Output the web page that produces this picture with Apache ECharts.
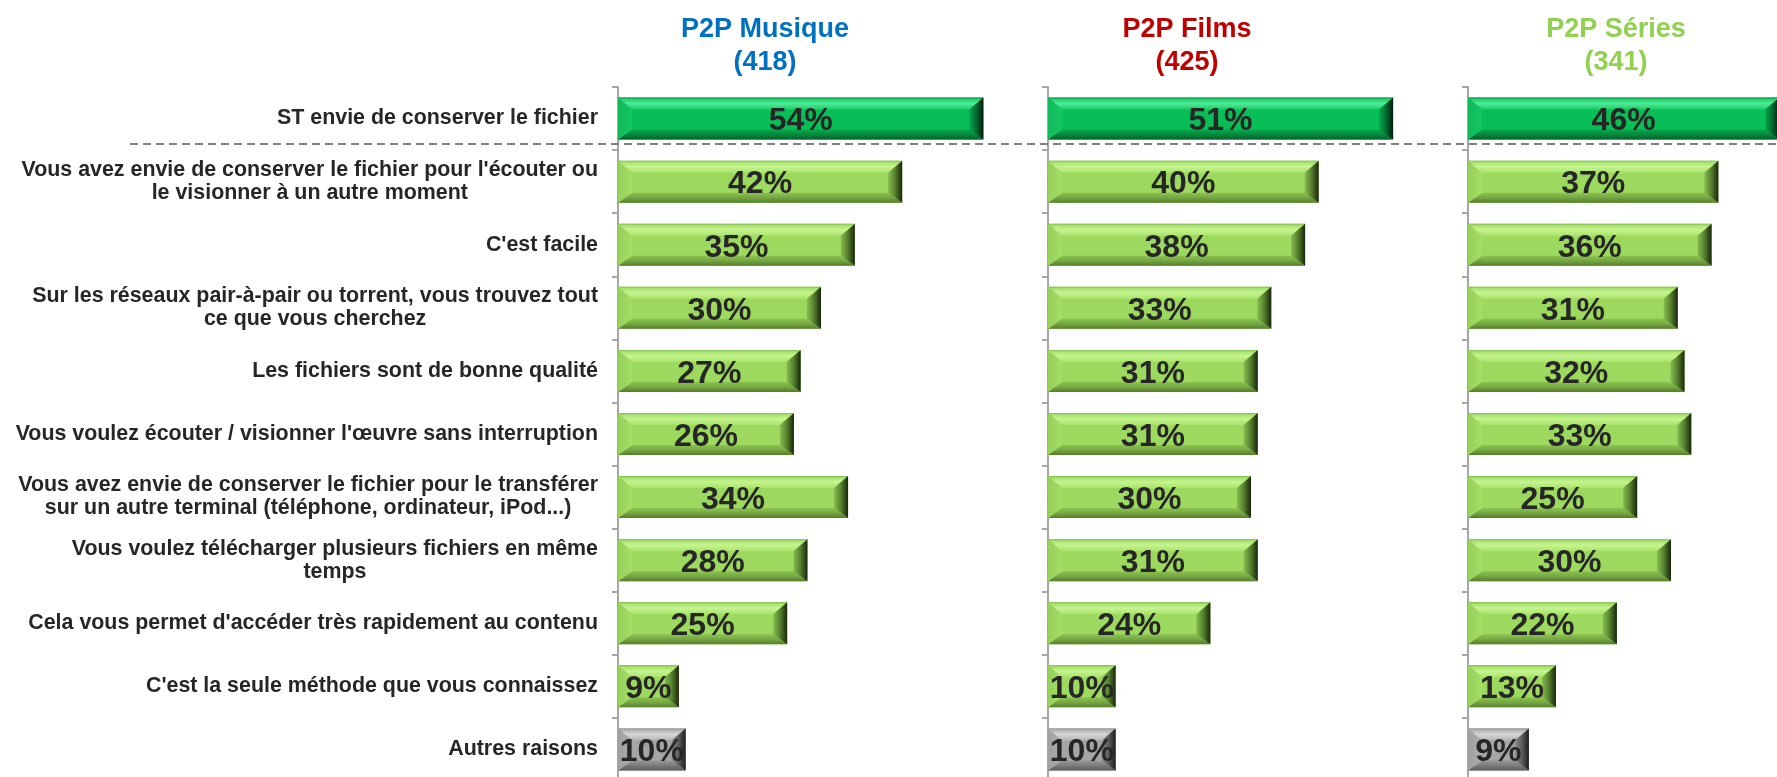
<!DOCTYPE html>
<html>
<head>
<meta charset="utf-8">
<script src="https://cdn.jsdelivr.net/npm/echarts@6/dist/echarts.min.js"></script>
<style>
  html, body { margin: 0; padding: 0; background: #ffffff; }
  #chart { width: 1777px; height: 777px; }
</style>
</head>
<body>
<div id="chart"></div>
<script>
// Reasons given for downloading via peer-to-peer, by content type
const categories = [
  "ST envie de conserver le fichier",
  "Vous avez envie de conserver le fichier pour l'écouter ou\nle visionner à un autre moment",
  "C'est facile",
  "Sur les réseaux pair-à-pair ou torrent, vous trouvez tout\nce que vous cherchez",
  "Les fichiers sont de bonne qualité",
  "Vous voulez écouter / visionner l'œuvre sans interruption",
  "Vous avez envie de conserver le fichier pour le transférer\nsur un autre terminal (téléphone, ordinateur, iPod...)",
  "Vous voulez télécharger plusieurs fichiers en même\ntemps",
  "Cela vous permet d'accéder très rapidement au contenu",
  "C'est la seule méthode que vous connaissez",
  "Autres raisons"
];

const panelTitles = ["P2P Musique\n(418)", "P2P Films\n(425)", "P2P Séries\n(341)"];

const musique = [54, 42, 35, 30, 27, 26, 34, 28, 25, 9, 10];
const films   = [51, 40, 38, 33, 31, 31, 30, 31, 24, 10, 10];
const series  = [46, 37, 36, 31, 32, 33, 25, 30, 22, 13, 9];

// Bar style per row: summary row, detail rows, "other" row
const rowKind = ["summary", "detail", "detail", "detail", "detail", "detail",
                 "detail", "detail", "detail", "detail", "other"];

const FONT = "'Liberation Sans', Arial, Helvetica, sans-serif";
const LG = echarts.graphic.LinearGradient;
const stops = arr => arr.map(([offset, color]) => ({ offset, color }));

const palettes = {
  summary: {
    center: '#08BE56',
    top: new LG(0, 0, 0, 1, stops([[0, '#0A9E4A'], [0.15, '#22CE6C'], [0.5, '#4FEC98'], [1, '#1ACB66']])),
    bottom: new LG(0, 0, 0, 1, stops([[0, '#07A84B'], [0.5, '#058A3D'], [1, '#035E29']])),
    left: new LG(0, 0, 1, 0, stops([[0, '#12B95B'], [1, '#14C663']])),
    right: new LG(0, 0, 1, 0, stops([[0, '#07A44A'], [0.5, '#046B31'], [1, '#011C0C']]))
  },
  detail: {
    center: '#9DD95F',
    top: new LG(0, 0, 0, 1, stops([[0, '#7FB94A'], [0.15, '#A8E270'], [0.5, '#C6F48F'], [1, '#A8E36A']])),
    bottom: new LG(0, 0, 0, 1, stops([[0, '#8BC451'], [0.5, '#76A842'], [1, '#557D2D']])),
    left: new LG(0, 0, 1, 0, stops([[0, '#96CF5A'], [1, '#A4DF66']])),
    right: new LG(0, 0, 1, 0, stops([[0, '#86BC4F'], [0.5, '#557F2D'], [1, '#18260B']]))
  },
  other: {
    center: '#A5A5A5',
    top: new LG(0, 0, 0, 1, stops([[0, '#8E8E8E'], [0.15, '#B4B4B4'], [0.5, '#D6D6D6'], [1, '#B3B3B3']])),
    bottom: new LG(0, 0, 0, 1, stops([[0, '#989898'], [0.5, '#7C7C7C'], [1, '#5A5A5A']])),
    left: new LG(0, 0, 1, 0, stops([[0, '#A0A0A0'], [1, '#AEAEAE']])),
    right: new LG(0, 0, 1, 0, stops([[0, '#8E8E8E'], [0.5, '#5C5C5C'], [1, '#1C1C1C']]))
  }
};

const BAR_H = 42;

// Bevelled bar drawn from the value and category through the axes
function renderBevel(params, api) {
  const idx = api.value(1);
  const start = api.coord([0, idx]);
  const end = api.coord([api.value(0), idx]);
  const x0 = start[0], x1 = end[0];
  const y0 = start[1] - BAR_H / 2, y1 = start[1] + BAR_H / 2;
  const bx = Math.min(14, (x1 - x0) / 2), byTop = 12, byBot = 10;
  const p = palettes[rowKind[idx]];
  const poly = (points, fill) => ({ type: 'polygon', shape: { points }, style: { fill } });
  return {
    type: 'group',
    children: [
      { type: 'rect', shape: { x: x0, y: y0, width: x1 - x0, height: y1 - y0 }, style: { fill: p.center } },
      poly([[x0, y0], [x1, y0], [x1 - bx, y0 + byTop], [x0 + bx, y0 + byTop]], p.top),
      poly([[x0, y1], [x1, y1], [x1 - bx, y1 - byBot], [x0 + bx, y1 - byBot]], p.bottom),
      poly([[x0, y0], [x0 + bx, y0 + byTop], [x0 + bx, y1 - byBot], [x0, y1]], p.left),
      poly([[x1, y0], [x1 - bx, y0 + byTop], [x1 - bx, y1 - byBot], [x1, y1]], p.right)
    ]
  };
}

const panelData = [musique, films, series];
const panelLeft = [618, 1048, 1468];
const titleColors = ['#0070C0', '#C00000', '#92D050'];
const titleCenter = [760, 1182, 1611];

// All three panels share the same scale; the last one runs past the right edge
const grids = panelLeft.map(l => ({
  left: l, top: 87, width: 406, height: 694,
  outerBoundsMode: 'none', containLabel: false
}));

const xAxes = panelLeft.map((_, i) => ({
  type: 'value', gridIndex: i, min: 0, max: 60, show: false
}));

const yAxes = panelLeft.map((_, i) => ({
  type: 'category', gridIndex: i, inverse: true, data: categories,
  axisLine: { show: true, lineStyle: { color: '#A6A6A6', width: 2 } },
  axisTick: { show: true, length: 6, lineStyle: { color: '#A6A6A6', width: 2 } },
  splitLine: { show: false },
  axisLabel: i === 0 ? {
    show: true,
    margin: 20,
    formatter: v => v.split('\n').map(line => '{c|' + line + '}').join('\n'),
    rich: {
      c: { align: 'center', fontSize: 21.4, fontWeight: 'bold', color: '#262626', fontFamily: FONT, lineHeight: 23 }
    }
  } : { show: false }
}));

const seriesList = [];
panelData.forEach((vals, i) => {
  seriesList.push({
    type: 'custom', xAxisIndex: i, yAxisIndex: i, z: 2, clip: false,
    renderItem: renderBevel,
    encode: { x: 0, y: 1 },
    data: vals.map((v, k) => [v, k])
  });
  seriesList.push({
    type: 'bar', xAxisIndex: i, yAxisIndex: i, z: 5, clip: false,
    barWidth: BAR_H,
    data: vals,
    itemStyle: { color: 'rgba(0,0,0,0)' },
    label: {
      show: true, position: 'inside', offset: [0, 3],
      formatter: '{c}%',
      fontSize: 32, fontWeight: 'bold', color: '#262626', fontFamily: FONT
    }
  });
});

const titles = panelTitles.map((t, i) => ({
  text: t,
  left: titleCenter[i],
  top: 8,
  textAlign: 'center',
  textStyle: { color: titleColors[i], fontSize: 27, fontWeight: 'bold', fontFamily: FONT, lineHeight: 33 }
}));

const chart = echarts.init(document.getElementById('chart'), null, { renderer: 'canvas' });
chart.setOption({
  animation: false,
  backgroundColor: '#ffffff',
  title: titles,
  grid: grids,
  xAxis: xAxes,
  yAxis: yAxes,
  series: seriesList,
  graphic: [{
    // separator under the summary row
    type: 'line', z: 10,
    shape: { x1: 130, y1: 144, x2: 1777, y2: 144 },
    style: { stroke: '#7F7F7F', lineWidth: 2, lineDash: [8, 5] }
  }]
});
</script>
</body>
</html>
